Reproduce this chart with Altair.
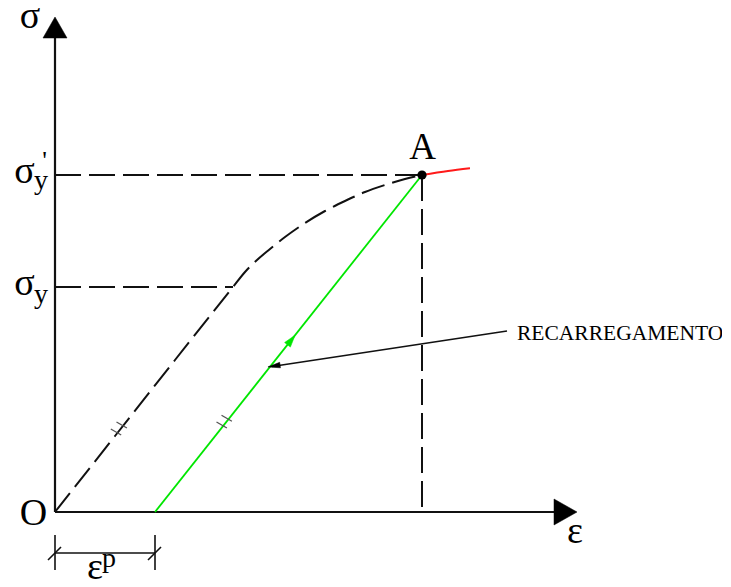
import altair as alt
import pandas as pd

# ---- values (strain ε, stress σ in arbitrary units) ----
load_eps = [0.0, 0.6, 1.2, 1.78, 1.90, 2.02, 2.15, 2.30, 2.50, 2.70, 2.90, 3.10, 3.30, 3.50, 3.67]
load_sig = [0.0, 0.76, 1.52, 2.25, 2.40, 2.52, 2.63, 2.75, 2.89, 3.01, 3.11, 3.20, 3.27, 3.33, 3.37]
reload_eps = [1.0, 3.67]
reload_sig = [0.0, 3.37]
red_eps = [3.67, 3.93, 4.15]
red_sig = [3.37, 3.41, 3.437]
sigma_y = 2.25
sigma_y_prime = 3.37
eps_sigma_y = 1.78
eps_A = 3.67
eps_p = 1.0

XMIN, XMAX = -0.47, 6.67
YMIN, YMAX = -0.67, 5.04
W, H = 714, 571

xs = alt.Scale(domain=[XMIN, XMAX], nice=False, zero=False)
ys = alt.Scale(domain=[YMIN, YMAX], nice=False, zero=False)
SERIF = "Liberation Serif"


def X(f="x"):
    return alt.X(f"{f}:Q", scale=xs, axis=None)


def Y(f="y"):
    return alt.Y(f"{f}:Q", scale=ys, axis=None)


def segs(rows, color="#111111", width=2.0, dash=None):
    df = pd.DataFrame(rows, columns=["x", "y", "x2", "y2"])
    kw = dict(color=color, strokeWidth=width)
    if dash:
        kw["strokeDash"] = dash
    return alt.Chart(df).mark_rule(**kw).encode(
        x=X(), y=Y(), x2="x2:Q", y2="y2:Q")


def arrowhead(x, y, path, size, angle=0, color="black"):
    df = pd.DataFrame({"x": [x], "y": [y]})
    return alt.Chart(df).mark_point(
        shape=path, size=size, angle=angle, filled=True, fill=color,
        stroke=color, strokeWidth=0.5, opacity=1).encode(x=X(), y=Y())


def label(x, y, text, size, align="center"):
    df = pd.DataFrame({"x": [x], "y": [y], "t": [text]})
    return alt.Chart(df).mark_text(
        font=SERIF, fontSize=size, align=align, baseline="alphabetic",
        color="black").encode(x=X(), y=Y(), text="t:N")


layers = []

# axes
layers.append(segs([[0, 0, 4.99, 0], [0, 0, 0, 4.74]], width=2.2))
layers.append(arrowhead(0, 4.845, "M-1,0.875L1,0.875L0,-0.875Z", 576))
layers.append(arrowhead(5.105, 0, "M-1,-1.13L1,0L-1,1.13Z", 529))

# dashed guides
layers.append(segs([[0, sigma_y_prime, eps_A, sigma_y_prime],
                    [0, sigma_y, eps_sigma_y, sigma_y],
                    [eps_A, sigma_y_prime, eps_A, 0]], width=2.0, dash=[26, 8]))

# loading curve (dashed)
load_df = pd.DataFrame({"x": load_eps, "y": load_sig, "o": range(len(load_eps))})
layers.append(alt.Chart(load_df).mark_line(
    color="#111111", strokeWidth=2.0, strokeDash=[24, 8], interpolate="monotone"
).encode(x=X(), y=Y(), order="o:Q"))

# reloading line (green)
rel_df = pd.DataFrame({"x": reload_eps, "y": reload_sig})
layers.append(alt.Chart(rel_df).mark_line(color="#00e600", strokeWidth=1.8).encode(x=X(), y=Y()))

# red continuation
red_df = pd.DataFrame({"x": red_eps, "y": red_sig})
layers.append(alt.Chart(red_df).mark_line(color="#ff1a1a", strokeWidth=2.0,
                                          interpolate="monotone").encode(x=X(), y=Y()))

# parallel tick marks
tick_centers = [(0.61, 0.80), (0.667, 0.87), (1.667, 0.87), (1.717, 0.937)]
layers.append(segs([[cx - 0.052, cy + 0.03, cx + 0.052, cy - 0.03] for cx, cy in tick_centers],
                   color="#555555", width=1.3))

# green direction arrow
layers.append(arrowhead(2.363, 1.72, "M1,0L-1,-0.6L-1,0.6Z", 150, angle=308.4, color="#00e600"))

# annotation arrow
layers.append(segs([[4.52, 1.81, 2.17, 1.455]], width=1.6))
layers.append(arrowhead(2.19, 1.46, "M1,0L-1,-0.45L-1,0.45Z", 150, angle=171.4))

# point A
a_df = pd.DataFrame({"x": [eps_A], "y": [sigma_y_prime]})
layers.append(alt.Chart(a_df).mark_point(filled=True, size=85, color="black", opacity=1)
              .encode(x=X(), y=Y()))

# εp dimension
layers.append(segs([[0, -0.23, 0, -0.58], [eps_p, -0.23, eps_p, -0.58],
                    [0, -0.41, eps_p, -0.41],
                    [-0.07, -0.48, 0.06, -0.35], [eps_p - 0.07, -0.48, eps_p + 0.06, -0.35]],
                   width=1.6))

# labels
layers.append(label(-0.25, 4.84, "σ", 38))
layers.append(label(-0.305, 3.29, "σ", 38))
layers.append(label(-0.105, 3.43, "'", 26))
layers.append(label(-0.14, 3.23, "y", 28))
layers.append(label(-0.305, 2.17, "σ", 38))
layers.append(label(-0.14, 2.09, "y", 28))
layers.append(label(-0.215, -0.13, "O", 38))
layers.append(label(3.675, 3.53, "A", 37))
layers.append(label(5.20, -0.31, "ε", 38))
layers.append(label(0.40, -0.665, "ε", 38))
layers.append(label(0.54, -0.55, "p", 28))
layers.append(label(4.62, 1.72, "RECARREGAMENTO", 21.5, align="left"))

chart = alt.layer(*layers).properties(
    width=W, height=H, padding=0,
    autosize=alt.AutoSizeParams(type="none"),
).configure(background="white").configure_view(strokeWidth=0, stroke=None)

chart.save("out.html", embed_options={"renderer": "svg", "actions": False})
